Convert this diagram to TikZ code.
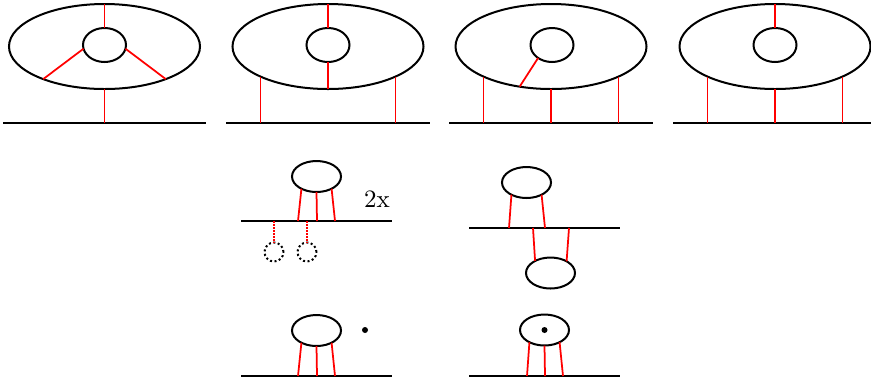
\documentclass[tikz,border=0pt]{standalone}
\usetikzlibrary{shapes.geometric,positioning,calc}
\begin{document}
\begin{tikzpicture}[
    x=0.4pt, y=-0.4pt,
    big/.style={ellipse, draw, thick, minimum width=76.4pt, minimum height=34pt, inner sep=0pt, outer sep=0pt},
    hole/.style={ellipse, draw, thick, minimum width=17.2pt, minimum height=13.6pt, inner sep=0pt, outer sep=0pt},
    blob/.style={ellipse, draw, thick, minimum width=19.6pt, minimum height=12.4pt, inner sep=0pt, outer sep=0pt},
    ghost/.style={circle, draw, densely dotted, thick, minimum size=7.6pt, inner sep=0pt, outer sep=0pt},
    dot/.style={circle, fill, minimum size=2.4pt, inner sep=0pt},
    floor/.style={thick},
    link/.style={red, line width=0.7pt},
    ghostlink/.style={red, line width=0.7pt, dash pattern=on 0.6pt off 0.6pt}
]
\useasboundingbox (0,0) rectangle (871,382);

% Top row, first surface
\node[big] (o1) at (104.5,46.5) {};
\node[hole] (h1) at (104.5,45) {};
\draw[floor] (3,123) -- (206,123);
\coordinate (f1) at (104.5,123);
\draw[link] (o1.north) -- (h1.north);
\draw[link] (h1.190) -- (o1.208);
\draw[link] (h1.-10) -- (o1.-28);
\draw[link] (o1.south) -- (f1);

% Top row, second surface
\node[big] (o2) at (328,46.5) {};
\node[hole] (h2) at (328,45) {};
\draw[floor] (226,123) coordinate (g2) -- (430,123);
\draw[link] (o2.north) -- (h2.north);
\draw[link] (h2.south) -- (o2.south);
\draw[link] (o2.204) -- (o2.204 |- g2);
\draw[link] (o2.336) -- (o2.336 |- g2);

% Top row, third surface
\node[big] (o3) at (551,46.5) {};
\node[hole] (h3) at (552,45) {};
\draw[floor] (449,123) coordinate (g3) -- (653,123);
\draw[link] (h3.223) -- (o3.232);
\draw[link] (o3.204) -- (o3.204 |- g3);
\draw[link] (o3.south) -- (o3.south |- g3);
\draw[link] (o3.336) -- (o3.336 |- g3);

% Top row, fourth surface
\node[big] (o4) at (775,46.5) {};
\node[hole] (h4) at (775,45) {};
\draw[floor] (673,123) coordinate (g4) -- (876,123);
\draw[link] (o4.north) -- (h4.north);
\draw[link] (o4.204) -- (o4.204 |- g4);
\draw[link] (o4.south) -- (o4.south |- g4);
\draw[link] (o4.336) -- (o4.336 |- g4);

% Middle row, left: bubble with two ghosts
\node[blob] (a) at (316.5,176.5) {};
\draw[floor] (241,221) coordinate (ga) -- (392,221);
\coordinate (a1) at (298,221);
\coordinate (a2) at (317,221);
\coordinate (a3) at (335,221);
\draw[link] (a.219) -- (a1);
\draw[link] (a.south) -- (a2);
\draw[link] (a.321) -- (a3);
\node[ghost] (p1) at (274,252) {};
\node[ghost] (p2) at (307,252) {};
\draw[ghostlink] (p1.north |- ga) -- (p1.north);
\draw[ghostlink] (p2.north |- ga) -- (p2.north);
\node (times) at (377,199) {2x};

% Middle row, right: bubbles on both sides
\node[blob] (b) at (526.5,182.5) {};
\node[blob] (c) at (550.5,273) {};
\draw[floor] (469,228) -- (620,228);
\coordinate (b1) at (509,228);
\coordinate (b2) at (545,228);
\coordinate (c1) at (533,228);
\coordinate (c2) at (569,228);
\draw[link] (b.219) -- (b1);
\draw[link] (b.321) -- (b2);
\draw[link] (c1) -- (c.142);
\draw[link] (c2) -- (c.36);

% Bottom row, left: bubble and point
\node[blob] (d) at (316.5,330.5) {};
\draw[floor] (241,376) -- (392,376);
\coordinate (d1) at (298,376);
\coordinate (d2) at (317,376);
\coordinate (d3) at (335,376);
\draw[link] (d.219) -- (d1);
\draw[link] (d.south) -- (d2);
\draw[link] (d.321) -- (d3);
\node[dot] (s1) at (365,330) {};

% Bottom row, right: point inside bubble
\node[blob] (e) at (544.5,330) {};
\draw[floor] (469,376) -- (620,376);
\coordinate (e1) at (527,376);
\coordinate (e2) at (545,376);
\coordinate (e3) at (563,376);
\draw[link] (e.219) -- (e1);
\draw[link] (e.south) -- (e2);
\draw[link] (e.321) -- (e3);
\node[dot] (s2) at (e) {};

\end{tikzpicture}
\end{document}
